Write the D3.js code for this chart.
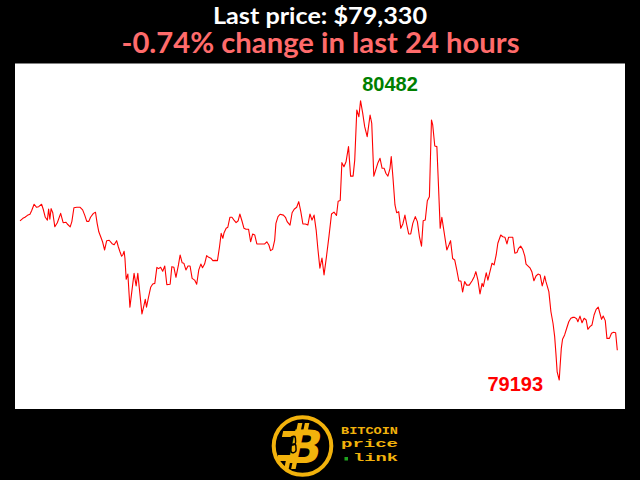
<!DOCTYPE html>
<html>
<head>
<meta charset="utf-8">
<script src="https://cdn.jsdelivr.net/npm/d3@7"></script>
<style>
  html, body { margin: 0; padding: 0; background: #000; }
  svg { display: block; }
</style>
</head>
<body>
<svg id="chart" width="640" height="480"></svg>
<script>
// ---- data (minutes since start of the 24h window, BTC price in USD) ----
const times = [0,7,12,18,24,28,34,40,45,52,56,61,66,69,72,75,79,84,90,98,104,111,114,121,125,130,137,145,151,156,161,166,170,177,182,186,190,195,199,204,209,215,222,227,233,237,241,245,248,251,253,256,260,265,270,275,280,284,289,294,299,302,305,310,315,320,325,330,334,339,344,349,354,362,366,371,376,382,386,391,395,400,405,410,415,421,426,431,436,440,445,450,455,460,465,471,476,481,485,489,492,497,501,506,511,516,521,526,530,535,540,545,551,556,561,566,571,577,583,590,595,600,604,609,614,617,622,627,635,640,644,651,656,661,667,672,677,682,688,694,699,704,709,714,718,723,728,733,739,745,751,757,763,767,772,776,781,786,792,797,803,807,812,817,821,826,831,837,844,848,853,858,863,868,873,878,882,887,892,895,899,904,908,913,918,923,928,932,937,942,947,953,958,963,968,972,977,982,987,992,995,1000,1005,1009,1013,1017,1022,1029,1034,1038,1043,1048,1053,1058,1063,1067,1072,1077,1083,1090,1095,1099,1104,1109,1114,1117,1124,1128,1133,1138,1143,1148,1152,1159,1164,1169,1174,1178,1183,1188,1193,1198,1202,1207,1212,1217,1220,1225,1230,1234,1239,1244,1249,1254,1259,1262,1265,1268,1275,1280,1285,1289,1292,1295,1300,1302,1305,1308,1313,1318,1323,1328,1333,1337,1342,1345,1350,1355,1360,1365,1369,1374,1379,1384,1389,1394,1398,1402,1406,1411,1415,1421,1426,1431,1436,1440];
const prices = [79927,79939,79944,79953,79958,79974,80004,79990,79993,80004,79981,79944,79931,79982,79935,79984,79965,79900,79919,79962,79919,79921,79913,79900,79924,79988,79990,79990,79978,79954,79925,79925,79944,79962,79967,79916,79877,79852,79831,79793,79836,79838,79822,79817,79836,79808,79785,79764,79771,79787,79755,79658,79682,79529,79608,79685,79627,79685,79593,79498,79539,79565,79529,79577,79621,79636,79639,79713,79707,79713,79695,79719,79633,79635,79716,79713,79667,79724,79770,79734,79732,79701,79719,79719,79662,79654,79635,79701,79728,79711,79728,79767,79759,79755,79744,79745,79744,79808,79870,79847,79873,79893,79898,79944,79944,79931,79919,79928,79959,79928,79893,79889,79889,79831,79867,79862,79821,79821,79821,79821,79831,79816,79790,79796,79839,79916,79947,79958,79954,79944,79924,79908,79965,79981,79990,80016,79970,79913,79913,79908,79959,79931,79954,79885,79801,79709,79756,79678,79765,79858,79959,79968,79952,80018,80021,80196,80177,80200,80270,80134,80134,80208,80439,80408,80482,80427,80362,80316,80416,80378,80134,80165,80196,80216,80170,80170,80147,80134,80170,80224,80131,80001,79965,79970,79893,79913,79954,79913,79867,79867,79916,79947,79924,79854,79811,79928,79931,80020,80039,80393,80370,80273,80270,80085,79893,79944,79881,79793,79816,79836,79754,79747,79701,79650,79650,79599,79647,79631,79631,79651,79670,79693,79654,79590,79639,79624,79688,79654,79693,79732,79724,79770,79824,79862,79854,79852,79821,79852,79852,79852,79778,79781,79801,79811,79796,79765,79728,79719,79709,79693,79651,79673,79682,79678,79627,79647,79673,79647,79601,79508,79455,79393,79316,79231,79193,79254,79339,79381,79401,79432,79462,79478,79482,79482,79476,79462,79488,79457,79478,79470,79427,79439,79447,79493,79519,79529,79501,79473,79488,79467,79385,79385,79409,79413,79411,79330];
const titleLines = ["Last price: $79,330", "-0.74% change in last 24 hours"];
const logoWords = ["BITCOIN", "price", "link"];

// ---- layout ----
const W = 640, H = 480;
const plot = { left: 15, right: 625, top: 63.5, bottom: 409 };

const svg = d3.select("#chart");
svg.append("rect").attr("width", W).attr("height", H).attr("fill", "#000");

// titles
svg.append("text")
  .attr("x", 320).attr("y", 24.3)
  .attr("text-anchor", "middle")
  .attr("font-family", "Lato, 'Open Sans', sans-serif")
  .attr("font-weight", "bold")
  .attr("font-size", 23.5)
  .attr("fill", "#ffffff")
  .attr("textLength", 214).attr("lengthAdjust", "spacingAndGlyphs")
  .text(titleLines[0]);

svg.append("text")
  .attr("x", 320.5).attr("y", 52.7)
  .attr("text-anchor", "middle")
  .attr("font-family", "Lato, 'Open Sans', sans-serif")
  .attr("font-weight", "bold")
  .attr("font-size", 28)
  .attr("fill", "#ff6b6b")
  .attr("textLength", 398).attr("lengthAdjust", "spacingAndGlyphs")
  .text(titleLines[1]);

// plot background
svg.append("rect")
  .attr("x", plot.left).attr("y", plot.top)
  .attr("width", plot.right - plot.left).attr("height", plot.bottom - plot.top)
  .attr("fill", "#ffffff");

const data = times.map((t, i) => ({ t, p: prices[i] }));

const x = d3.scaleLinear().domain(d3.extent(times)).range([20, 617.3]);
const pMin = d3.min(prices), pMax = d3.max(prices);
const y = d3.scaleLinear().domain([pMin, pMax]).range([380, 100.7]);

const line = d3.line().x(d => x(d.t)).y(d => y(d.p));

svg.append("path")
  .datum(data)
  .attr("d", line)
  .attr("fill", "none")
  .attr("stroke", "#ff0000")
  .attr("stroke-width", 1.1)
  .attr("stroke-linejoin", "round");

const maxD = data.find(d => d.p === pMax);
const minD = data.find(d => d.p === pMin);

svg.append("text")
  .attr("x", x(maxD.t) + 29.5).attr("y", y(pMax) - 10)
  .attr("text-anchor", "middle")
  .attr("font-family", "'Liberation Sans', Arial, sans-serif")
  .attr("font-weight", "bold")
  .attr("font-size", 20)
  .attr("fill", "#008000")
  .text(pMax);

svg.append("text")
  .attr("x", x(minD.t) - 44).attr("y", y(pMin) + 10.7)
  .attr("text-anchor", "middle")
  .attr("font-family", "'Liberation Sans', Arial, sans-serif")
  .attr("font-weight", "bold")
  .attr("font-size", 20)
  .attr("fill", "#ff0000")
  .text(pMin);

// ---- logo ----
const gold = "#f2b20c";
const logo = svg.append("g");
logo.append("circle")
  .attr("cx", 302.5).attr("cy", 446).attr("r", 28.8)
  .attr("fill", "#000").attr("stroke", gold).attr("stroke-width", 4);

const bG = logo.append("g").attr("transform", "translate(302,446) skewX(-12)");
// bitcoin bars
[[-9, -23], [-2, -23], [-13, 13], [-6, 13]].forEach(([bx, by]) => {
  bG.append("rect").attr("x", bx).attr("y", by).attr("width", 4.5).attr("height", 10).attr("fill", gold);
});
bG.append("rect").attr("x", -22).attr("y", -15).attr("width", 14).attr("height", 6).attr("fill", gold);
bG.append("rect").attr("x", -22).attr("y", 9).attr("width", 14).attr("height", 6).attr("fill", gold);
bG.append("text")
  .attr("x", 3).attr("y", 16.5)
  .attr("text-anchor", "middle")
  .attr("font-family", "'DejaVu Sans', sans-serif")
  .attr("font-weight", "bold")
  .attr("font-size", 46)
  .attr("fill", gold)
  .text("B");
// chain link on the stem
const link = bG.append("g").attr("transform", "translate(-9,-1) rotate(-15)");
link.append("rect").attr("x", -2.5).attr("y", -9).attr("width", 5).attr("height", 9).attr("rx", 2.5)
  .attr("fill", "none").attr("stroke", "#000").attr("stroke-width", 1.4);
link.append("rect").attr("x", -2.5).attr("y", -1).attr("width", 5).attr("height", 9).attr("rx", 2.5)
  .attr("fill", "none").attr("stroke", "#000").attr("stroke-width", 1.4);

const mono = "'Liberation Mono', 'DejaVu Sans Mono', monospace";
logo.append("text")
  .attr("x", 341).attr("y", 434)
  .attr("font-family", mono).attr("font-weight", "bold").attr("font-size", 11.5)
  .attr("fill", gold)
  .attr("textLength", 57).attr("lengthAdjust", "spacingAndGlyphs")
  .text(logoWords[0]);
logo.append("text")
  .attr("x", 341).attr("y", 446.5)
  .attr("font-family", mono).attr("font-weight", "bold").attr("font-size", 11.5)
  .attr("fill", gold)
  .attr("textLength", 57).attr("lengthAdjust", "spacingAndGlyphs")
  .text(logoWords[1]);
logo.append("rect")
  .attr("x", 344.5).attr("y", 457).attr("width", 3.5).attr("height", 3.5)
  .attr("fill", "#1fa31f");
logo.append("text")
  .attr("x", 353).attr("y", 461.3)
  .attr("font-family", mono).attr("font-weight", "bold").attr("font-size", 11.5)
  .attr("fill", gold)
  .attr("textLength", 45).attr("lengthAdjust", "spacingAndGlyphs")
  .text(logoWords[2]);
</script>
</body>
</html>
